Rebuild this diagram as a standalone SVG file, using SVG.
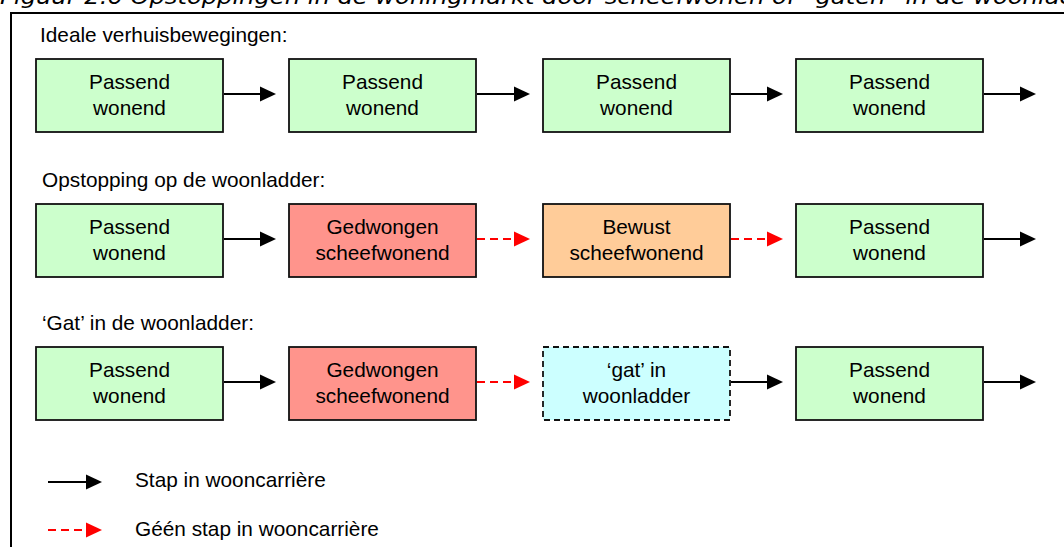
<svg xmlns="http://www.w3.org/2000/svg" width="1064" height="547" viewBox="0 0 1064 547">
  <defs>
    <marker id="ahBlack" markerUnits="userSpaceOnUse" markerWidth="17" markerHeight="16" refX="0" refY="8" orient="auto">
      <path d="M0,0.5 L16,8 L0,15.5 Z" fill="#000"/>
    </marker>
    <marker id="ahRed" markerUnits="userSpaceOnUse" markerWidth="17" markerHeight="16" refX="0" refY="8" orient="auto">
      <path d="M0,0.5 L16,8 L0,15.5 Z" fill="#FF0000"/>
    </marker>
    <style>
      .title { font-family: "DejaVu Sans", "Liberation Sans", sans-serif; font-style: italic; font-size: 21px; fill: #000; }
      .head { font-family: "Liberation Sans", Arial, sans-serif; font-size: 20.8px; fill: #000; }
      .lbl { font-family: "Liberation Sans", Arial, sans-serif; font-size: 20.8px; fill: #000; text-anchor: middle; }
      .box { stroke: #111; stroke-width: 1.8; }
      .green { fill: #CCFFCC; }
      .red { fill: #FF948C; }
      .orange { fill: #FFCC99; }
      .cyan { fill: #CCFFFF; stroke-dasharray: 6 4; }
      .step { stroke: #000; stroke-width: 2; fill: none; marker-end: url(#ahBlack); }
      .nostep { stroke: #FF0000; stroke-width: 2; fill: none; stroke-dasharray: 8 5; marker-end: url(#ahRed); }
    </style>
  </defs>

  <rect width="1064" height="547" fill="#fff"/>
  <text class="title" x="0" y="4" textLength="1115" lengthAdjust="spacingAndGlyphs">Figuur 2.6 Opstoppingen in de woningmarkt door scheefwonen of “gaten” in de woonladder</text>
  <path d="M11,560 V13 H1080" fill="none" stroke="#000" stroke-width="2"/>

  <text class="head" x="40" y="42">Ideale verhuisbewegingen:</text>
  <text class="head" x="42" y="187">Opstopping op de woonladder:</text>
  <text class="head" x="42" y="330">‘Gat’ in de woonladder:</text>

  <!-- Row 1 -->
  <g id="r1n1"><rect class="box green" x="36" y="59" width="187" height="73"/><text class="lbl" x="129.5" y="89">Passend</text><text class="lbl" x="129.5" y="115">wonend</text></g>
  <g id="r1n2"><rect class="box green" x="289" y="59" width="187" height="73"/><text class="lbl" x="382.5" y="89">Passend</text><text class="lbl" x="382.5" y="115">wonend</text></g>
  <g id="r1n3"><rect class="box green" x="543" y="59" width="187" height="73"/><text class="lbl" x="636.5" y="89">Passend</text><text class="lbl" x="636.5" y="115">wonend</text></g>
  <g id="r1n4"><rect class="box green" x="796" y="59" width="187" height="73"/><text class="lbl" x="889.5" y="89">Passend</text><text class="lbl" x="889.5" y="115">wonend</text></g>

  <!-- Row 2 -->
  <g id="r2n1"><rect class="box green" x="36" y="204" width="187" height="73"/><text class="lbl" x="129.5" y="234">Passend</text><text class="lbl" x="129.5" y="260">wonend</text></g>
  <g id="r2n2"><rect class="box red" x="289" y="204" width="187" height="73"/><text class="lbl" x="382.5" y="234">Gedwongen</text><text class="lbl" x="382.5" y="260">scheefwonend</text></g>
  <g id="r2n3"><rect class="box orange" x="543" y="204" width="187" height="73"/><text class="lbl" x="636.5" y="234">Bewust</text><text class="lbl" x="636.5" y="260">scheefwonend</text></g>
  <g id="r2n4"><rect class="box green" x="796" y="204" width="187" height="73"/><text class="lbl" x="889.5" y="234">Passend</text><text class="lbl" x="889.5" y="260">wonend</text></g>

  <!-- Row 3 -->
  <g id="r3n1"><rect class="box green" x="36" y="347" width="187" height="73"/><text class="lbl" x="129.5" y="377">Passend</text><text class="lbl" x="129.5" y="403">wonend</text></g>
  <g id="r3n2"><rect class="box red" x="289" y="347" width="187" height="73"/><text class="lbl" x="382.5" y="377">Gedwongen</text><text class="lbl" x="382.5" y="403">scheefwonend</text></g>
  <g id="r3n3"><rect class="box cyan" x="543" y="347" width="187" height="73"/><text class="lbl" x="636.5" y="377">‘gat’ in</text><text class="lbl" x="636.5" y="403">woonladder</text></g>
  <g id="r3n4"><rect class="box green" x="796" y="347" width="187" height="73"/><text class="lbl" x="889.5" y="377">Passend</text><text class="lbl" x="889.5" y="403">wonend</text></g>

  <g id="connectors">
    <line class="step" x1="224" y1="94" x2="260" y2="94"/>
    <line class="step" x1="477" y1="94" x2="514" y2="94"/>
    <line class="step" x1="731" y1="94" x2="767" y2="94"/>
    <line class="step" x1="984" y1="94" x2="1020" y2="94"/>

    <line class="step" x1="224" y1="239" x2="260" y2="239"/>
    <line class="nostep" x1="477" y1="239" x2="514" y2="239"/>
    <line class="nostep" x1="731" y1="239" x2="767" y2="239"/>
    <line class="step" x1="984" y1="239" x2="1020" y2="239"/>

    <line class="step" x1="224" y1="382" x2="260" y2="382"/>
    <line class="nostep" x1="477" y1="382" x2="514" y2="382"/>
    <line class="step" x1="731" y1="382" x2="767" y2="382"/>
    <line class="step" x1="984" y1="382" x2="1020" y2="382"/>

    <line class="step" x1="48" y1="482" x2="86" y2="482"/>
    <line class="nostep" x1="48" y1="530" x2="86" y2="530"/>
  </g>

  <text class="head" x="135" y="487">Stap in wooncarrière</text>
  <text class="head" x="135" y="536">Géén stap in wooncarrière</text>
</svg>
